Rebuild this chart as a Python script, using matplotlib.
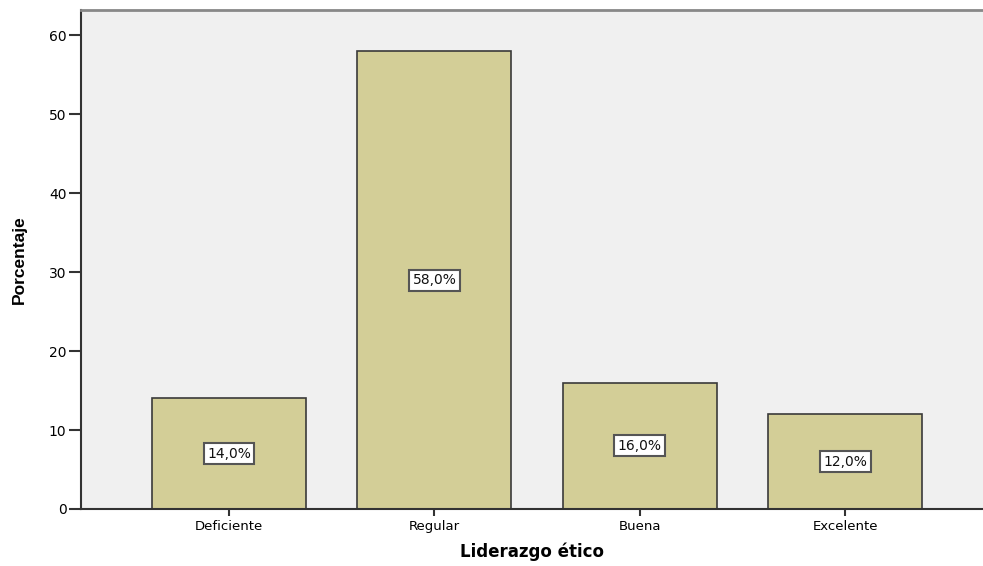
import matplotlib
matplotlib.use("Agg")
import matplotlib.pyplot as plt

categorias = ["Deficiente", "Regular", "Buena", "Excelente"]
porcentajes = [14.0, 58.0, 16.0, 12.0]
yticks = [0, 10, 20, 30, 40, 50, 60]

plt.rcParams['font.family'] = ['DejaVu Sans']

fig = plt.figure(figsize=(9.83, 5.66), dpi=100)
ax = fig.add_axes([81/983, 57/566, 902/983, 499/566])
ax.set_facecolor("#F0F0F0")

x = list(range(len(categorias)))
ax.bar(x, porcentajes, width=0.75, color="#D3CE97", edgecolor="#3A3A3A", linewidth=1.2, zorder=2)

for xi, v in zip(x, porcentajes):
    etiqueta = ("%.1f%%" % v).replace(".", ",")
    ax.text(xi, v / 2, etiqueta, ha="center", va="center", fontsize=10, color="#111111",
            bbox=dict(boxstyle="square,pad=0.25", fc="white", ec="#555555", lw=1.5), zorder=3)

ax.set_xlim(-0.72, 3.67)
ax.set_ylim(0, 63.2)
ax.set_yticks(yticks)
ax.set_xticks(x)
ax.set_xticklabels(categorias, fontsize=9.5)
ax.tick_params(axis="y", labelsize=10, length=8.5, width=1.5, color="#333333", pad=2)
ax.tick_params(axis="x", length=5, width=1.5, color="#333333", pad=3)

for s in ["left", "bottom"]:
    ax.spines[s].set_color("#333333")
    ax.spines[s].set_linewidth(1.5)
ax.spines["top"].set_color("#888888")
ax.spines["top"].set_linewidth(2)
ax.spines["right"].set_visible(False)

ax.set_ylabel("Porcentaje", fontsize=12.5, fontweight="bold", labelpad=16, family="Liberation Sans")
ax.set_xlabel("Liderazgo ético", fontsize=12, fontweight="bold", labelpad=7)

fig.savefig("out.png", dpi=100)
